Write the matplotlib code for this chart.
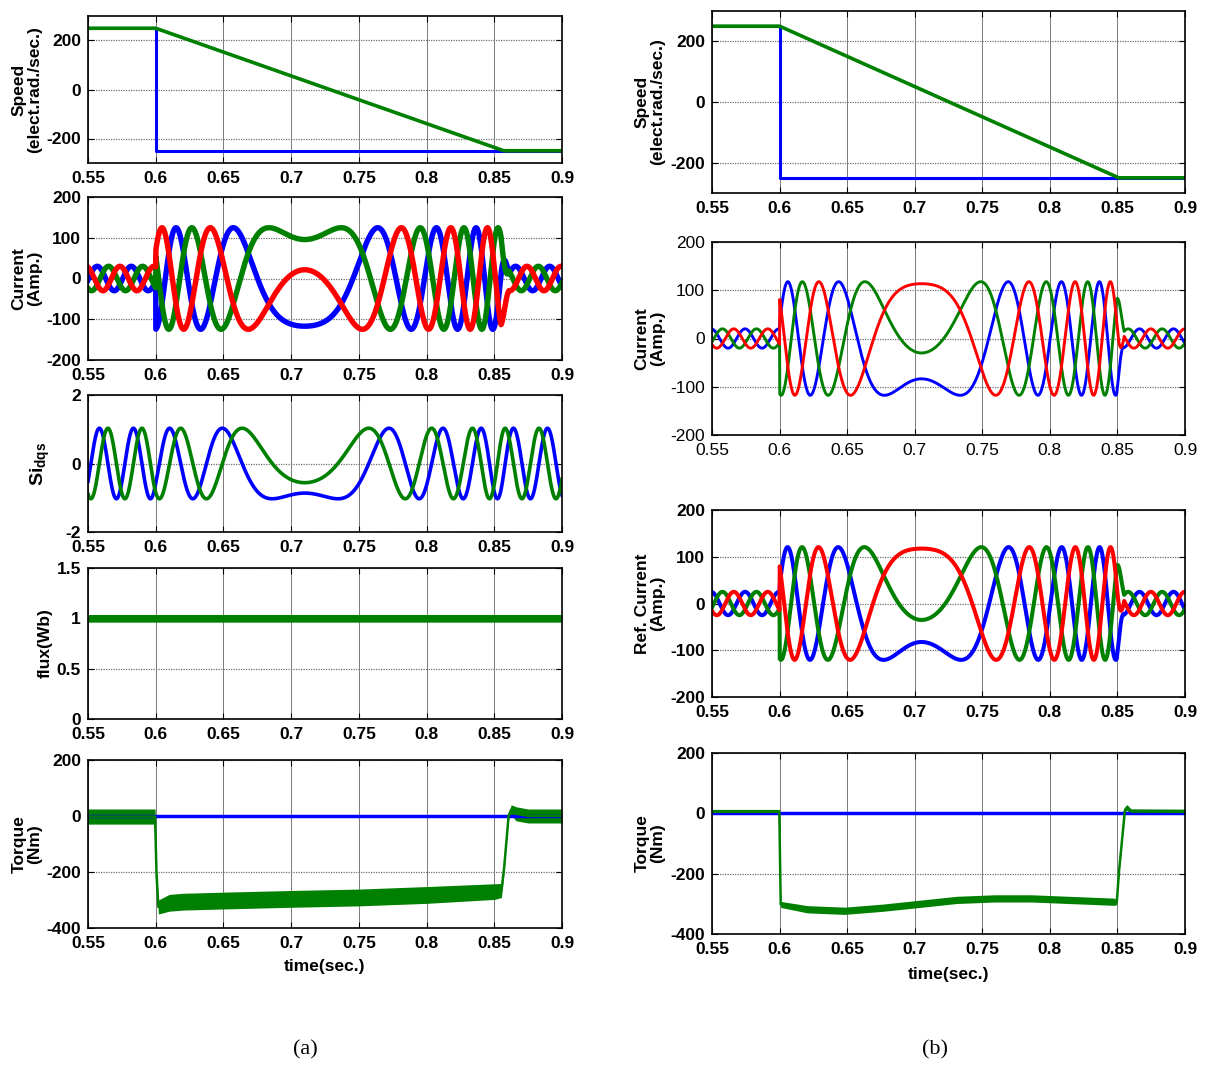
import numpy as np
import matplotlib
matplotlib.use('Agg')
import matplotlib.pyplot as plt
from matplotlib import font_manager as fm

# ---------------- fonts ----------------
_names = {f.name for f in fm.fontManager.ttflist}
TICK_FAMILY = 'Liberation Sans Narrow' if 'Liberation Sans Narrow' in _names else 'Liberation Sans'
plt.rcParams['font.family'] = ['Liberation Sans', 'DejaVu Sans']
plt.rcParams['axes.unicode_minus'] = False
plt.rcParams['mathtext.fontset'] = 'custom'
plt.rcParams['mathtext.rm'] = 'Liberation Sans:bold'
plt.rcParams['mathtext.it'] = 'Liberation Sans:bold'
plt.rcParams['mathtext.bf'] = 'Liberation Sans:bold'

# ---------------- data ----------------
T_START, T_END = 0.55, 0.9
X_TICKS = [0.55, 0.6, 0.65, 0.7, 0.75, 0.8, 0.85, 0.9]
X_TICK_LABELS = ['0.55', '0.6', '0.65', '0.7', '0.75', '0.8', '0.85', '0.9']

# speed (elect. rad/s)
SPD_REF_T = [0.55, 0.6, 0.6, 0.9]
SPD_REF = [250, 250, -250, -250]
SPD_ACT_T_A = [0.55, 0.6, 0.857, 0.9]
SPD_ACT_A = [250, 250, -250, -250]
SPD_ACT_T_B = [0.55, 0.6, 0.851, 0.9]
SPD_ACT_B = [250, 250, -250, -250]

# electrical (flux) frequency in rad/s, read from the current peak spacing
W_T_A = [0.55, 0.6, 0.6001, 0.710, 0.856, 0.862, 0.9]
W_A = [250, 250, 221, 0, -280, -250, -250]
RHO_T_A, RHO_DEG_A = 0.710, -4.0         # flux angle at the turning point
W_T_B = [0.55, 0.6, 0.6001, 0.705, 0.85, 0.856, 0.9]
W_B = [250, 250, 219, 0, -276, -250, -250]
RHO_T_B, RHO_DEG_B = 0.705, 65.0

# d/q current components (A)
ID_A = 30
IQ_T_A = [0.55, 0.6, 0.6001, 0.855, 0.861, 0.9]
IQ_A = [0, 0, -121, -121, 0, 0]
ID_B = 20
IQ_T_B = [0.55, 0.6, 0.6001, 0.8495, 0.855, 0.9]
IQ_B = [0, 0, -116, -116, 0, 0]
ID_BREF = 25
IQ_BREF = [0, 0, -118, -118, 0, 0]

# stationary-frame flux components
SI_AMP = 1.03
SI_OFFSET_DEG = 217

# flux magnitude band
FLUX_T = [0.55, 0.9]
FLUX = [1.0, 1.0]
FLUX_HALF = 0.038

# torque (a): band centre / half width
TQA_T = [0.55, 0.5995, 0.6005, 0.602, 0.61, 0.62, 0.65, 0.70, 0.75, 0.80, 0.85, 0.8553,
         0.857, 0.8605, 0.8625, 0.866, 0.875, 0.9]
TQA = [-2, -2, -200, -325, -310, -306, -302, -296, -291, -282, -270, -266,
       -200, 0, 22, 8, 0, 0]
TQA_HALF = [27, 27, 8, 25, 30, 30, 30, 30, 30, 30, 28, 25,
            8, 10, 18, 25, 25, 25]
TQ_REF = [0, 0]
# torque (b)
TQB_T = [0.55, 0.5998, 0.6008, 0.6206, 0.648, 0.676, 0.7036, 0.731, 0.759, 0.7866, 0.814,
         0.8475, 0.8495, 0.851, 0.8555, 0.857, 0.86, 0.9]
TQB = [5, 5, -302, -318, -323, -313, -300, -287, -282, -282, -287,
       -293, -295, -200, 10, 20, 6, 5]
TQB_HALF = [8, 8, 10, 12, 12, 12, 12, 12, 12, 12, 12, 12, 8, 6, 8, 9, 9, 9]

BLUE, GREEN, RED = '#0000FF', '#008000', '#FF0000'

# ---------------- signal construction ----------------
t = np.linspace(T_START, T_END, 7001)


def flux_angle(w_t, w, t_ref, ang_ref_deg):
    ws = np.interp(t, w_t, w)
    ang = np.concatenate([[0.0], np.cumsum(0.5 * (ws[1:] + ws[:-1]) * np.diff(t))])
    return ang + np.deg2rad(ang_ref_deg) - np.interp(t_ref, t, ang)


def phase_currents(rho, i_d, iq_t, iq):
    z = (i_d + 1j * np.interp(t, iq_t, iq)) * np.exp(1j * rho)
    red = z.real
    blue = (z * np.exp(-2j * np.pi / 3)).real
    green = (z * np.exp(2j * np.pi / 3)).real
    return blue, green, red


rho_a = flux_angle(W_T_A, W_A, RHO_T_A, RHO_DEG_A)
rho_b = flux_angle(W_T_B, W_B, RHO_T_B, RHO_DEG_B)
ia_b, ia_g, ia_r = phase_currents(rho_a, ID_A, IQ_T_A, IQ_A)
ib_b, ib_g, ib_r = phase_currents(rho_b, ID_B, IQ_T_B, IQ_B)
ir_b, ir_g, ir_r = phase_currents(rho_b, ID_BREF, IQ_T_B, IQ_BREF)
si_d = SI_AMP * np.cos(rho_a + np.deg2rad(SI_OFFSET_DEG))
si_q = SI_AMP * np.sin(rho_a + np.deg2rad(SI_OFFSET_DEG))

# ---------------- figure ----------------
W_PX, H_PX = 1206, 1067
fig = plt.figure(figsize=(W_PX / 100, H_PX / 100), dpi=100)
fig.patch.set_facecolor('white')


def make_ax(xl, xr, top, bot):
    return fig.add_axes([xl / W_PX, 1 - bot / H_PX, (xr - xl) / W_PX, (bot - top) / H_PX])


def style(ax, ylim, yticks, ylabels, bold=True):
    ax.set_xlim(T_START, T_END)
    ax.set_ylim(*ylim)
    ax.set_xticks(X_TICKS)
    ax.set_xticklabels(X_TICK_LABELS)
    ax.set_yticks(yticks)
    ax.set_yticklabels(ylabels)
    ax.tick_params(direction='in', length=4, width=0.8, top=True, right=True,
                   colors='black')
    ax.tick_params(axis='x', pad=6)
    ax.tick_params(axis='y', pad=5)
    for lab in ax.get_xticklabels() + ax.get_yticklabels():
        lab.set_family([TICK_FAMILY, 'DejaVu Sans'])
        lab.set_weight('bold' if bold else 'normal')
        lab.set_size(12.5)
    ax.set_axisbelow(True)
    ax.xaxis.grid(True, color='#7a7a7a', lw=0.7, ls='-')
    ax.yaxis.grid(True, color='#707070', lw=0.9, ls=(0, (1, 1)))
    for s in ax.spines.values():
        s.set_linewidth(1.2)


def ylab(x_px, top, bot, text, size=12.5):
    fig.text(x_px / W_PX, 1 - (top + bot) / 2 / H_PX, text, rotation=90, ha='center',
             va='center', fontsize=size, fontweight='bold', linespacing=1.05,
             multialignment='center')


LX0, LX1 = 88, 562
RX0, RX1 = 712, 1185

# ----- (a) speed -----
r = (16, 163)
ax = make_ax(LX0, LX1, *r)
ax.plot(SPD_REF_T, SPD_REF, color=BLUE, lw=2.2)
ax.plot(SPD_ACT_T_A, SPD_ACT_A, color=GREEN, lw=2.6)
style(ax, (-300, 300), [-200, 0, 200], ['-200', '0', '200'])
ylab(27, *r, 'Speed\n(elect.rad./sec.)')

# ----- (a) current -----
r = (197, 360)
ax = make_ax(LX0, LX1, *r)
ax.plot(t, ia_b, color=BLUE, lw=3.9)
ax.plot(t, ia_g, color=GREEN, lw=3.9)
ax.plot(t, ia_r, color=RED, lw=3.9)
style(ax, (-200, 200), [-200, -100, 0, 100, 200], ['-200', '-100', '0', '100', '200'])
ylab(27, *r, 'Current\n(Amp.)')

# ----- (a) Si_dqs -----
r = (395, 532)
ax = make_ax(LX0, LX1, *r)
ax.plot(t, si_d, color=BLUE, lw=2.6)
ax.plot(t, si_q, color=GREEN, lw=2.6)
style(ax, (-2, 2), [-2, 0, 2], ['-2', '0', '2'])
ylab(40, *r, r'Si$_{dqs}$', size=14)

# ----- (a) flux -----
r = (568, 719)
ax = make_ax(LX0, LX1, *r)
fl = np.interp(t, FLUX_T, FLUX)
ax.fill_between(t, fl - FLUX_HALF, fl + FLUX_HALF, color=GREEN, lw=0)
style(ax, (0, 1.5), [0, 0.5, 1, 1.5], ['0', '0.5', '1', '1.5'])
ylab(45, *r, 'flux(Wb)')

# ----- (a) torque -----
r = (760, 928)
ax = make_ax(LX0, LX1, *r)
ax.plot([T_START, T_END], TQ_REF, color=BLUE, lw=2.5)
tqa = np.interp(t, TQA_T, TQA)
tqah = np.interp(t, TQA_T, TQA_HALF)
ax.fill_between(t, tqa - tqah, tqa + tqah, color=GREEN, lw=0)
ax.plot(t, tqa, color=GREEN, lw=1.8)
style(ax, (-400, 200), [-400, -200, 0, 200], ['-400', '-200', '0', '200'])
ylab(27, *r, 'Torque\n(Nm)')
fig.text((LX0 + LX1) / 2 / W_PX, 1 - 966 / H_PX, 'time(sec.)', ha='center', va='center',
         fontsize=12.5, fontweight='bold')

# ----- (b) speed -----
r = (11, 193)
ax = make_ax(RX0, RX1, *r)
ax.plot(SPD_REF_T, SPD_REF, color=BLUE, lw=2.2)
ax.plot(SPD_ACT_T_B, SPD_ACT_B, color=GREEN, lw=2.6)
style(ax, (-300, 300), [-200, 0, 200], ['-200', '0', '200'])
ylab(650, *r, 'Speed\n(elect.rad./sec.)')

# ----- (b) current -----
r = (242, 435)
ax = make_ax(RX0, RX1, *r)
ax.plot(t, ib_b, color=BLUE, lw=2.1)
ax.plot(t, ib_g, color=GREEN, lw=2.1)
ax.plot(t, ib_r, color=RED, lw=2.1)
style(ax, (-200, 200), [-200, -100, 0, 100, 200], ['-200', '-100', '0', '100', '200'],
      bold=False)
ylab(650, *r, 'Current\n(Amp.)')

# ----- (b) ref current -----
r = (510, 697)
ax = make_ax(RX0, RX1, *r)
ax.plot(t, ir_b, color=BLUE, lw=2.9)
ax.plot(t, ir_g, color=GREEN, lw=2.9)
ax.plot(t, ir_r, color=RED, lw=2.9)
style(ax, (-200, 200), [-200, -100, 0, 100, 200], ['-200', '-100', '0', '100', '200'])
ylab(650, *r, 'Ref. Current\n(Amp.)')

# ----- (b) torque -----
r = (753, 934)
ax = make_ax(RX0, RX1, *r)
ax.plot([T_START, T_END], TQ_REF, color=BLUE, lw=2.5)
tqb = np.interp(t, TQB_T, TQB)
tqbh = np.interp(t, TQB_T, TQB_HALF)
ax.fill_between(t, tqb - tqbh, tqb + tqbh, color=GREEN, lw=0)
ax.plot(t, tqb, color=GREEN, lw=1.8)
style(ax, (-400, 200), [-400, -200, 0, 200], ['-400', '-200', '0', '200'])
ylab(650, *r, 'Torque\n(Nm)')
fig.text((RX0 + RX1) / 2 / W_PX, 1 - 975 / H_PX, 'time(sec.)', ha='center', va='center',
         fontsize=12.5, fontweight='bold')

# ----- panel captions -----
fig.text(305 / W_PX, 1 - 1050 / H_PX, '(a)', ha='center', va='center', fontsize=16,
         family=['Liberation Serif', 'DejaVu Serif'])
fig.text(935 / W_PX, 1 - 1050 / H_PX, '(b)', ha='center', va='center', fontsize=16,
         family=['Liberation Serif', 'DejaVu Serif'])

fig.savefig('out.png', dpi=100, facecolor='white')
